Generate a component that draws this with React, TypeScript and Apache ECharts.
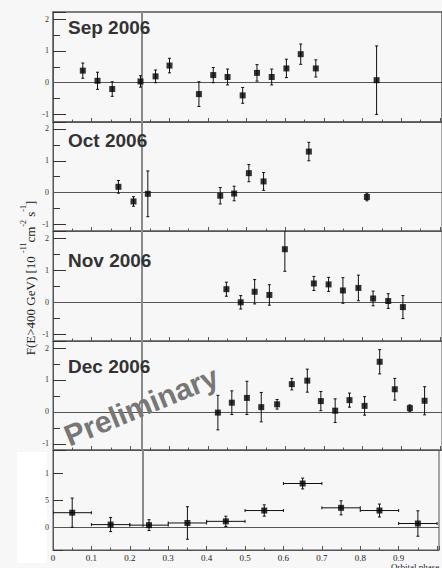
import React, { useEffect, useRef } from 'react';
import * as echarts from 'echarts';

// ---- Data (orbital phase, flux in 1e-11 cm^-2 s^-1, symmetric error) ----
const sepPhase = [0.077, 0.115, 0.153, 0.226, 0.265, 0.301, 0.377, 0.414, 0.451, 0.49, 0.527, 0.565, 0.603, 0.64, 0.679, 0.836];
const sepFlux = [0.38, 0.06, -0.2, 0.04, 0.2, 0.54, -0.36, 0.24, 0.18, -0.4, 0.31, 0.18, 0.45, 0.9, 0.45, 0.08];
const sepErr = [0.24, 0.27, 0.23, 0.18, 0.2, 0.23, 0.39, 0.24, 0.25, 0.25, 0.26, 0.25, 0.29, 0.32, 0.27, 1.08];

const octPhase = [0.169, 0.208, 0.245, 0.432, 0.468, 0.506, 0.544, 0.661, 0.811];
const octFlux = [0.18, -0.28, -0.04, -0.1, -0.03, 0.61, 0.35, 1.29, -0.14];
const octErr = [0.2, 0.15, 0.72, 0.26, 0.23, 0.27, 0.28, 0.29, 0.12];

const novPhase = [0.448, 0.485, 0.521, 0.559, 0.599, 0.674, 0.712, 0.749, 0.789, 0.827, 0.866, 0.904];
const novFlux = [0.41, 0.0, 0.33, 0.23, 1.66, 0.59, 0.56, 0.37, 0.45, 0.12, 0.04, -0.15];
const novErr = [0.22, 0.21, 0.38, 0.32, 0.69, 0.22, 0.22, 0.4, 0.4, 0.23, 0.23, 0.36];

const decPhase = [0.426, 0.462, 0.501, 0.538, 0.579, 0.617, 0.657, 0.692, 0.729, 0.766, 0.805, 0.844, 0.883, 0.922, 0.96];
const decFlux = [-0.02, 0.29, 0.44, 0.15, 0.24, 0.87, 0.98, 0.34, 0.04, 0.37, 0.19, 1.57, 0.71, 0.12, 0.35];
const decErr = [0.54, 0.37, 0.52, 0.46, 0.15, 0.18, 0.36, 0.3, 0.37, 0.22, 0.29, 0.38, 0.34, 0.1, 0.44];

// folded light curve (bins of width 0.1)
const foldPhase = [0.05, 0.15, 0.25, 0.35, 0.45, 0.55, 0.65, 0.75, 0.85, 0.95];
const foldFlux = [2.7, 0.5, 0.4, 0.8, 1.1, 3.1, 8.1, 3.6, 3.1, 0.7];
const foldErr = [2.7, 1.3, 1.0, 3.0, 0.95, 1.05, 1.0, 1.3, 1.2, 2.35];
const foldHalfWidth = 0.05;

const monthLabels = ['Sep 2006', 'Oct 2006', 'Nov 2006', 'Dec 2006'];
const xTickLabels = ['0', '0.1', '0.2', '0.3', '0.4', '0.5', '0.6', '0.7', '0.8', '0.9'];
const markerPhase = 0.233;

const SERIF = '"Liberation Serif", "DejaVu Serif", serif';
const SANS = '"Liberation Sans", Arial, sans-serif';

export default function App() {
  const ref = useRef<HTMLDivElement>(null);

  useEffect(() => {
    if (!ref.current) return;
    const chart = echarts.init(ref.current, null, { renderer: 'svg' });

    const panels = [
      { phase: sepPhase, flux: sepFlux, err: sepErr, xe: 0, top: 12, height: 110, min: -1.24, max: 2.23, major: 1, minor: 0.5 },
      { phase: octPhase, flux: octFlux, err: octErr, xe: 0, top: 122, height: 109, min: -1.21, max: 2.22, major: 1, minor: 0.5 },
      { phase: novPhase, flux: novFlux, err: novErr, xe: 0, top: 231, height: 110, min: -1.21, max: 2.23, major: 1, minor: 0.5 },
      { phase: decPhase, flux: decFlux, err: decErr, xe: 0, top: 341, height: 109, min: -1.19, max: 2.22, major: 1, minor: 0.5 },
      { phase: foldPhase, flux: foldFlux, err: foldErr, xe: foldHalfWidth, top: 450, height: 100, min: -4.2, max: 14.3, major: 5, minor: 5 },
    ];

    const grids: any[] = [];
    const xAxes: any[] = [];
    const yAxes: any[] = [];
    const series: any[] = [];

    const errRender = (params: any, api: any) => {
      const x = api.value(0);
      const y = api.value(1);
      const e = api.value(2);
      const xe = api.value(3);
      const t = api.coord([x, y + e]);
      const b = api.coord([x, y - e]);
      const st = { stroke: '#111', lineWidth: 1 };
      const children: any[] = [
        { type: 'line', shape: { x1: t[0], y1: t[1], x2: b[0], y2: b[1] }, style: st },
        { type: 'line', shape: { x1: t[0] - 1.5, y1: t[1], x2: t[0] + 1.5, y2: t[1] }, style: st },
        { type: 'line', shape: { x1: b[0] - 1.5, y1: b[1], x2: b[0] + 1.5, y2: b[1] }, style: st },
      ];
      if (xe > 0) {
        const l = api.coord([x - xe, y]);
        const r = api.coord([x + xe, y]);
        children.push(
          { type: 'line', shape: { x1: l[0], y1: l[1], x2: r[0], y2: r[1] }, style: st },
          { type: 'line', shape: { x1: l[0], y1: l[1] - 1.5, x2: l[0], y2: l[1] + 1.5 }, style: st },
          { type: 'line', shape: { x1: r[0], y1: r[1] - 1.5, x2: r[0], y2: r[1] + 1.5 }, style: st }
        );
      }
      return { type: 'group', children };
    };

    panels.forEach((p, i) => {
      const last = i === panels.length - 1;
      grids.push({
        left: 53,
        width: 392,
        top: p.top,
        height: p.height,
        show: true,
        borderColor: '#555',
        borderWidth: i === 0 ? 1.5 : 1,
        backgroundColor: 'transparent',
      });
      xAxes.push({
        type: 'value',
        gridIndex: i,
        min: 0,
        max: 1.005,
        interval: 0.1,
        position: 'bottom',
        axisLine: { show: true, onZero: false, lineStyle: { color: '#555', width: 1 } },
        axisTick: { show: true, inside: true, length: 4, lineStyle: { color: '#555' } },
        minorTick: { show: true, splitNumber: 2, length: 2.5, lineStyle: { color: '#555' } },
        splitLine: { show: false },
        axisLabel: last
          ? {
              show: true,
              margin: 3,
              fontSize: 9,
              fontFamily: SERIF,
              color: '#222',
              formatter: (v: number) => {
                const k = Math.round(v * 10);
                return k >= 0 && k < xTickLabels.length && Math.abs(v * 10 - k) < 1e-6 ? xTickLabels[k] : '';
              },
            }
          : { show: false },
      });
      const step = p.major;
      yAxes.push({
        type: 'value',
        gridIndex: i,
        min: p.min,
        max: p.max,
        minInterval: step,
        maxInterval: step,
        position: 'left',
        axisLine: { show: true, onZero: false, lineStyle: { color: '#555', width: 1 } },
        axisTick: { show: true, inside: true, length: last ? 10 : 13, lineStyle: { color: '#333', width: 1 } },
        splitLine: { show: false },
        axisLabel: {
          show: true,
          margin: 4,
          fontSize: 8,
          fontFamily: SERIF,
          color: '#333',
          formatter: (v: number) => {
            const k = Math.round(v / step);
            if (Math.abs(v / step - k) > 1e-6) return '';
            const val = k * step;
            return last && val === 10 ? '1' : String(val);
          },
        },
      });
      const mainY = yAxes.length - 1;
      if (!last) {
        yAxes.push({
          type: 'value',
          gridIndex: i,
          min: p.min,
          max: p.max,
          minInterval: p.minor,
          maxInterval: p.minor,
          position: 'left',
          offset: 0,
          axisLine: { show: false, onZero: false },
          axisTick: { show: true, inside: true, length: 7, lineStyle: { color: '#333', width: 1 } },
          splitLine: { show: false },
          axisLabel: { show: false },
        });
      }

      const markData: any[] = [{ yAxis: 0, lineStyle: { color: '#555', width: 1, type: 'solid' } }];
      if (last) {
        markData.push([
          { coord: [markerPhase, 0], lineStyle: { color: '#8a8a8a', width: 2, type: 'solid' } },
          { coord: [markerPhase, p.max] },
        ]);
      } else {
        markData.push({ xAxis: markerPhase, lineStyle: { color: '#8a8a8a', width: 2, type: 'solid' } });
      }

      series.push({
        type: 'custom',
        xAxisIndex: i,
        yAxisIndex: mainY,
        clip: true,
        renderItem: errRender,
        data: p.phase.map((x, j) => [x, p.flux[j], p.err[j], p.xe]),
        z: 3,
        silent: true,
      });
      series.push({
        type: 'scatter',
        xAxisIndex: i,
        yAxisIndex: mainY,
        symbol: 'rect',
        symbolSize: 6,
        itemStyle: { color: '#000' },
        data: p.phase.map((x, j) => [x, p.flux[j]]),
        z: 4,
        silent: true,
        markLine: {
          silent: true,
          symbol: ['none', 'none'],
          label: { show: false },
          emphasis: { disabled: true },
          data: markData,
          z: 2,
        },
      });
    });

    const monthPos = [
      { x: 68, y: 27 },
      { x: 68, y: 140 },
      { x: 68, y: 260 },
      { x: 68, y: 366 },
    ];

    const graphic: any[] = [
      { type: 'rect', z: -1, shape: { x: 17, y: 452, width: 30, height: 111 }, style: { fill: '#ffffff' }, silent: true },
      ...monthLabels.map((t, i) => ({
        type: 'text',
        x: monthPos[i].x,
        y: monthPos[i].y,
        z: 10,
        style: { text: t, fontFamily: SANS, fontWeight: 'bold', fontSize: 19, fill: '#333', align: 'left', verticalAlign: 'middle' },
      })),
      {
        type: 'text',
        x: 141,
        y: 406,
        rotation: 0.39,
        z: 10,
        style: { text: 'Preliminary', fontFamily: SANS, fontWeight: 'bold', fontSize: 30, fill: '#777', align: 'center', verticalAlign: 'middle' },
      },
      {
        type: 'text',
        x: 28,
        y: 278,
        rotation: Math.PI / 2,
        z: 10,
        style: {
          text: '{m|F(E>400 GeV) [10 }{s|-11}{m|cm}{s|-2}{m| s}{s|-1}{m|]}',
          align: 'center',
          verticalAlign: 'middle',
          fill: '#222',
          fontFamily: SERIF,
          rich: {
            m: { fontSize: 13, fontFamily: SERIF, fill: '#222', lineHeight: 18, verticalAlign: 'bottom' },
            s: { fontSize: 8, fontFamily: SERIF, fill: '#222', lineHeight: 10, verticalAlign: 'top' },
          },
        },
      },
      {
        type: 'text',
        x: 391,
        y: 562,
        z: 10,
        style: { text: 'Orbital phase', fontFamily: SERIF, fontSize: 9, fill: '#222', align: 'left', verticalAlign: 'top' },
      },
    ];

    chart.setOption({
      animation: false,
      backgroundColor: '#f7f7f7',
      grid: grids,
      xAxis: xAxes,
      yAxis: yAxes,
      series,
      graphic,
    });

    return () => chart.dispose();
  }, []);

  return <div ref={ref} style={{ position: 'absolute', left: 0, top: 0, width: 442, height: 568 }} />;
}
